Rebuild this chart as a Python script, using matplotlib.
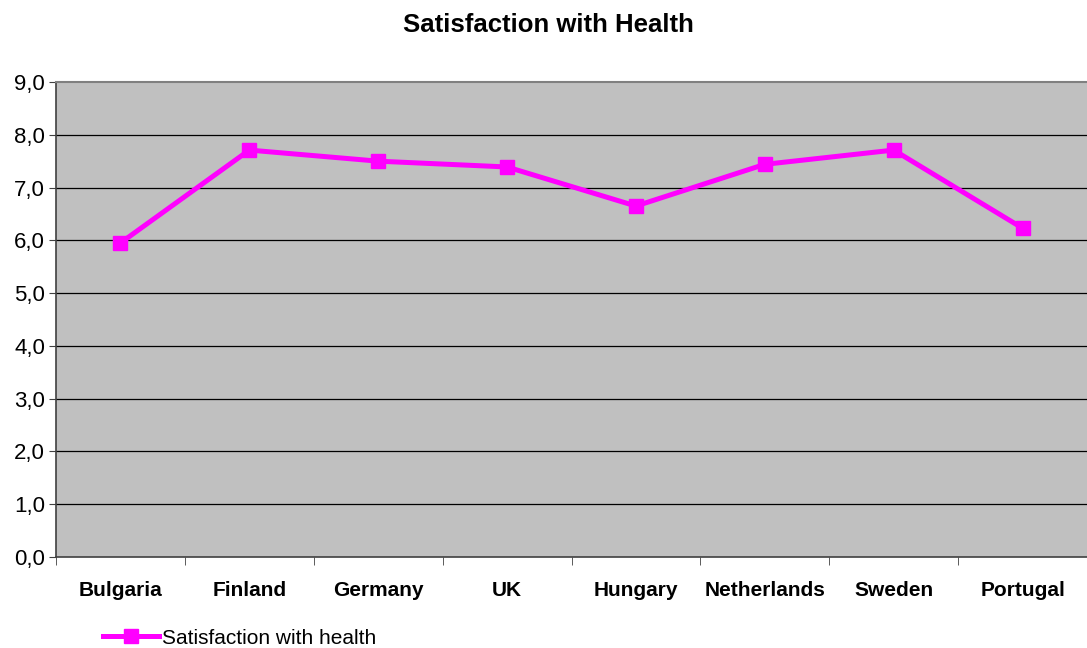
import matplotlib.pyplot as plt
import numpy as np

plt.rcParams['font.family'] = ['Liberation Sans', 'DejaVu Sans']

countries = ['Bulgaria', 'Finland', 'Germany', 'UK', 'Hungary',
             'Netherlands', 'Sweden', 'Portugal']
health = [5.95, 7.71, 7.50, 7.39, 6.65, 7.44, 7.71, 6.23]
yticks = np.arange(0, 9.5, 1.0)

fig = plt.figure(figsize=(10.87, 6.48), dpi=100)
ax = fig.add_axes([56/1087, 91/648, 1 - 56/1087, 475/648])
ax.set_facecolor('#C0C0C0')

x = np.arange(len(countries))
ax.plot(x, health, color='#FF00FF', lw=3.6, marker='s', ms=10.5,
        label='Satisfaction with health', zorder=3)

ax.set_xlim(-0.5, len(countries) - 0.5)
ax.set_ylim(0, 9)
ax.set_yticks(yticks)
ax.set_yticklabels([f'{v:.1f}'.replace('.', ',') for v in yticks], fontsize=16)
for v in yticks[1:-1]:
    ax.axhline(v, color='black', lw=0.9, zorder=1)

ax.set_xticks(x)
ax.set_xticklabels(countries, fontsize=15, fontweight='bold')
ax.tick_params(axis='x', length=0, pad=17)
ax.set_xticks(np.arange(-0.5, len(countries)), minor=True)
ax.tick_params(axis='x', which='minor', length=6, color='#404040')
ax.tick_params(axis='y', length=5, color='#404040', pad=3)

for s in ['left', 'bottom']:
    ax.spines[s].set_color('#404040')
    ax.spines[s].set_linewidth(1.2)
ax.spines['top'].set_color('#808080')
ax.spines['top'].set_linewidth(1.5)
ax.spines['right'].set_visible(False)

fig.text(548/1087, 1 - 25/648, 'Satisfaction with Health', fontsize=18.5,
         fontweight='bold', ha='center', va='center')

h, l = ax.get_legend_handles_labels()
fig.legend(h, l, loc='center left', bbox_to_anchor=(103/1087, 1 - 638/648),
           frameon=False, fontsize=15, handlelength=2.7, handletextpad=0.15,
           borderpad=0, borderaxespad=0)

fig.savefig('out.png', dpi=100)
